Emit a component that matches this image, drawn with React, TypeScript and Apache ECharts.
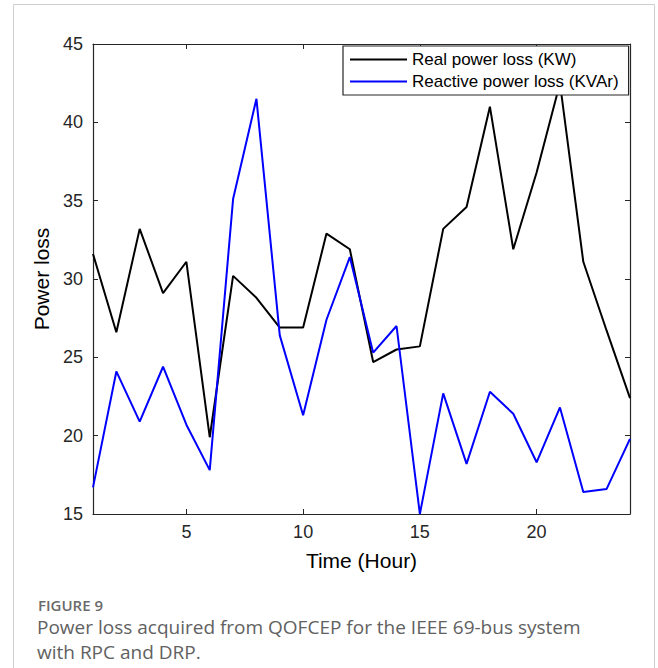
import React, { useEffect, useRef } from "react";
import * as echarts from "echarts";

const hours = [1, 2, 3, 4, 5, 6, 7, 8, 9, 10, 11, 12, 13, 14, 15, 16, 17, 18, 19, 20, 21, 22, 23, 24];
const realLoss = [31.6, 26.6, 33.2, 29.1, 31.1, 19.9, 30.2, 28.8, 26.9, 26.9, 32.9, 31.9, 24.7, 25.5, 25.7, 33.2, 34.6, 41.0, 31.9, 36.8, 42.5, 31.1, 26.7, 22.4];
const reactiveLoss = [16.7, 24.1, 20.9, 24.4, 20.7, 17.8, 35.1, 41.5, 26.4, 21.3, 27.4, 31.4, 25.3, 27.0, 15.0, 22.7, 18.2, 22.8, 21.4, 18.3, 21.8, 16.4, 16.6, 19.8];
const xTicks = [5, 10, 15, 20];
const seriesNames = ["Real power loss (KW)", "Reactive power loss (KVAr)"];
const captionTitle = "FIGURE 9";
const captionLines = [
  "Power loss acquired from QOFCEP for the IEEE 69-bus system",
  "with RPC and DRP.",
];

const AXIS = "#262626";
const FONT = "'Liberation Sans', Arial, sans-serif";
const CAP_FONT = "'Open Sans', sans-serif";

export default function App() {
  const ref = useRef<HTMLDivElement>(null);
  useEffect(() => {
    if (!ref.current) return;
    const chart = echarts.init(ref.current, null, { renderer: "svg" });
    const axisCommon = {
      axisLine: { show: true, onZero: false, lineStyle: { color: AXIS, width: 1.2 } },
      splitLine: { show: false },
    };
    chart.setOption({
      animation: false,
      backgroundColor: "#fff",
      grid: { left: 93, top: 44, right: 28, bottom: 154, containLabel: false },
      legend: {
        orient: "vertical",
        left: 343,
        top: 46,
        padding: [5, 10, 5, 7],
        itemGap: 5,
        itemWidth: 57,
        itemHeight: 2,
        icon: "rect",
        borderColor: AXIS,
        borderWidth: 1.2,
        backgroundColor: "#fff",
        textStyle: { fontFamily: FONT, fontSize: 17, color: "#000" },
        data: seriesNames,
      },
      xAxis: [
        {
          type: "value",
          min: 1,
          max: 24,
          position: "bottom",
          name: "Time (Hour)",
          nameLocation: "middle",
          nameGap: 36,
          nameTextStyle: { fontFamily: FONT, fontSize: 21, color: "#000" },
          ...axisCommon,
          axisTick: { show: true, inside: true, length: 5, customValues: xTicks, lineStyle: { color: AXIS } },
          axisLabel: { show: true, customValues: xTicks, margin: 9, fontFamily: FONT, fontSize: 18, color: AXIS },
        },
        {
          type: "value",
          min: 1,
          max: 24,
          position: "top",
          ...axisCommon,
          axisTick: { show: true, inside: true, length: 5, customValues: xTicks, lineStyle: { color: AXIS } },
          axisLabel: { show: false },
        },
      ],
      yAxis: [
        {
          type: "value",
          min: 15,
          max: 45,
          interval: 5,
          position: "left",
          name: "Power loss",
          nameLocation: "middle",
          nameGap: 38,
          nameTextStyle: { fontFamily: FONT, fontSize: 21, color: "#000" },
          ...axisCommon,
          axisTick: { show: true, inside: true, length: 5, lineStyle: { color: AXIS } },
          axisLabel: { show: true, margin: 10, fontFamily: FONT, fontSize: 18, color: AXIS },
        },
        {
          type: "value",
          min: 15,
          max: 45,
          interval: 5,
          position: "right",
          ...axisCommon,
          axisTick: { show: true, inside: true, length: 5, lineStyle: { color: AXIS } },
          axisLabel: { show: false },
        },
      ],
      series: [
        {
          name: seriesNames[0],
          type: "line",
          xAxisIndex: 0,
          yAxisIndex: 0,
          data: hours.map((h, i) => [h, realLoss[i]]),
          symbol: "none",
          lineStyle: { color: "#000000", width: 2 },
          itemStyle: { color: "#000000" },
          z: 2,
        },
        {
          name: seriesNames[1],
          type: "line",
          xAxisIndex: 0,
          yAxisIndex: 0,
          data: hours.map((h, i) => [h, reactiveLoss[i]]),
          symbol: "none",
          lineStyle: { color: "#0000ff", width: 2 },
          itemStyle: { color: "#0000ff" },
          z: 3,
        },
      ],
      graphic: [
        {
          type: "rect",
          shape: { x: 13.5, y: 4.5, width: 641, height: 720 },
          style: { fill: "none", stroke: "#cfcfcf", lineWidth: 1 },
          silent: true,
          z: -1,
        },
        {
          type: "text",
          left: 38,
          top: 597,
          style: { text: captionTitle, fontFamily: CAP_FONT, fontSize: 15, lineHeight: 16, fontWeight: 600, fill: "#6a6a6a" },
        },
        {
          type: "text",
          left: 37,
          top: 616,
          style: { text: captionLines[0], fontFamily: CAP_FONT, fontSize: 19, lineHeight: 22, fill: "#616161" },
        },
        {
          type: "text",
          left: 37,
          top: 641,
          style: { text: captionLines[1], fontFamily: CAP_FONT, fontSize: 19, lineHeight: 22, fill: "#616161" },
        },
      ],
    });
    return () => chart.dispose();
  }, []);
  return (
    <div
      ref={ref}
      style={{ position: "fixed", left: 0, top: 0, width: 658, height: 668 }}
    />
  );
}
